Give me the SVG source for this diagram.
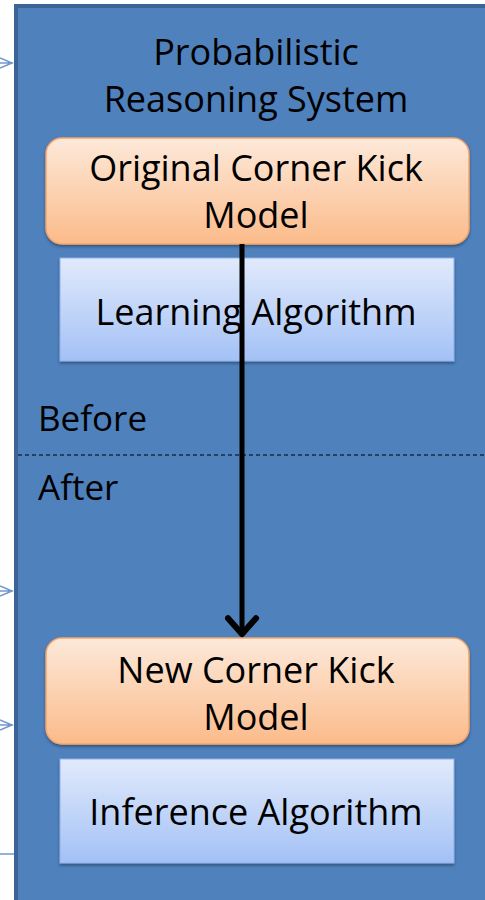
<svg xmlns="http://www.w3.org/2000/svg" width="485" height="900" viewBox="0 0 485 900">
<defs>
<linearGradient id="og" x1="0" y1="0" x2="0" y2="1"><stop offset="0" stop-color="#fde9da"/><stop offset="1" stop-color="#fbbb8a"/></linearGradient>
<linearGradient id="bg" x1="0" y1="0" x2="0" y2="1"><stop offset="0" stop-color="#e1eafb"/><stop offset="1" stop-color="#a3c1f6"/></linearGradient>
<filter id="sh" x="-10%" y="-10%" width="120%" height="130%"><feDropShadow dx="0" dy="2" stdDeviation="1.5" flood-color="#000" flood-opacity="0.35"/></filter>
<marker id="ah" viewBox="0 0 20 20" refX="17" refY="10" markerWidth="7" markerHeight="7" markerUnits="strokeWidth" orient="auto"><path d="M8 2 L17 10 L8 18" fill="none" stroke="#000" stroke-width="3.5" stroke-linecap="round" stroke-linejoin="round"/></marker>
</defs>
<style>
text{font-family:"Open Sans","Noto Sans","Liberation Sans",sans-serif;fill:#000;text-anchor:middle}
.t{font-size:36px}
.s{font-size:35px;text-anchor:start}
.stub{stroke:#6f97cf;stroke-width:1.5;fill:none}
</style>
<rect x="0" y="0" width="485" height="900" fill="#fff"/>
<g id="stubs">
<path class="stub" d="M0 58 L12 63 L0 68 M0 63 L13 63"/>
<path class="stub" d="M0 586 L12 591 L0 596 M0 591 L13 591"/>
<path class="stub" d="M0 720 L12 725 L0 730 M0 725 L13 725"/>
<path class="stub" d="M0 854 L14 854"/>
</g>
<g id="system">
<rect x="16" y="6" width="480" height="900" fill="#4f81bd" stroke="#3c6596" stroke-width="4"/>
<text class="t" x="256" y="65">Probabilistic</text>
<text class="t" x="256" y="112">Reasoning System</text>
</g>
<g id="divider">
<line x1="18" y1="455" x2="485" y2="455" stroke="#000" stroke-width="1" stroke-dasharray="4 3"/>
<text class="s" x="38" y="431">Before</text>
<text class="s" x="38" y="500">After</text>
</g>
<g id="orig">
<rect x="46" y="138" width="423" height="106" rx="16" fill="url(#og)" stroke="#f4a56a" stroke-width="1.5" filter="url(#sh)"/>
<text class="t" x="256" y="181">Original Corner Kick</text>
<text class="t" x="256" y="228">Model</text>
</g>
<g id="learn">
<rect x="60" y="258" width="394" height="103" fill="url(#bg)" stroke="#8fb0e8" stroke-width="1" filter="url(#sh)"/>
<text class="t" x="256" y="325">Learning Algorithm</text>
</g>
<g id="newm">
<rect x="46" y="638" width="423" height="106" rx="16" fill="url(#og)" stroke="#f4a56a" stroke-width="1.5" filter="url(#sh)"/>
<text class="t" x="256" y="683">New Corner Kick</text>
<text class="t" x="256" y="730">Model</text>
</g>
<g id="infer">
<rect x="60" y="759" width="394" height="104" fill="url(#bg)" stroke="#8fb0e8" stroke-width="1" filter="url(#sh)"/>
<text class="t" x="256" y="825">Inference Algorithm</text>
</g>
<g id="connectors">
<line x1="242" y1="244" x2="242" y2="634" stroke="#000" stroke-width="5" marker-end="url(#ah)"/>
</g>
</svg>
